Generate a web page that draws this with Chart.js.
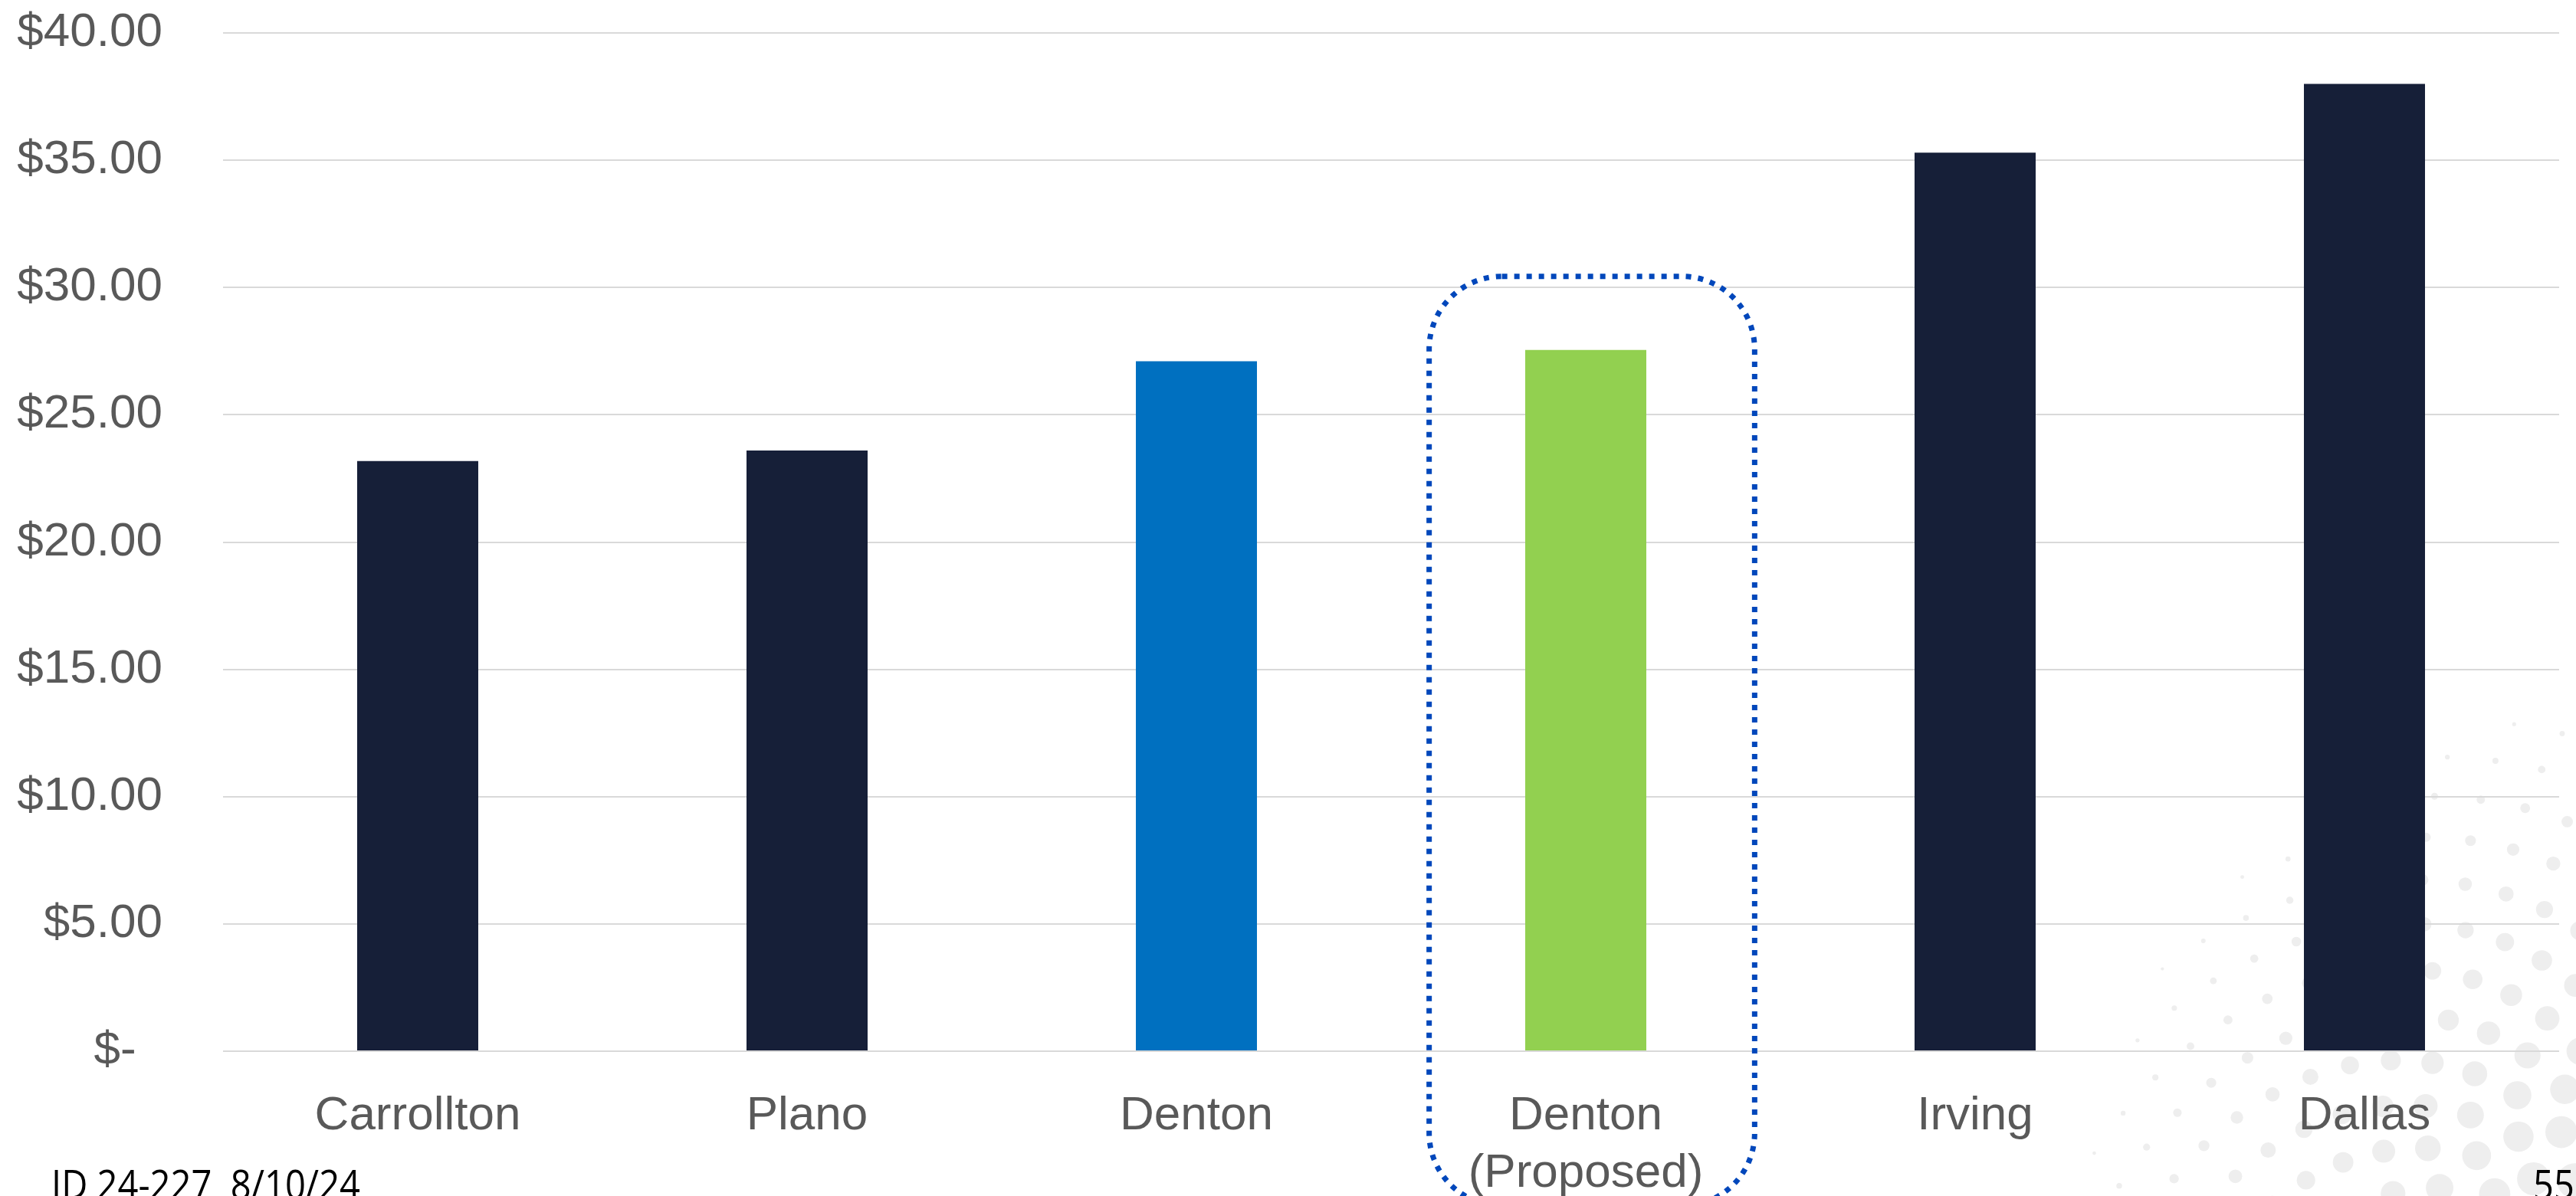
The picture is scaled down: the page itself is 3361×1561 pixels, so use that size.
<!DOCTYPE html>
<html>
<head>
<meta charset="utf-8">
<script src="https://cdn.jsdelivr.net/npm/chart.js@4.4.1/dist/chart.umd.min.js"></script>
<style>
  html, body { margin: 0; padding: 0; background: #fff; overflow: hidden; }
  #wrap { width: 3361px; height: 1561px; position: relative; }
</style>
</head>
<body>
<div id="wrap"><canvas id="rateChart"></canvas></div>
<script>
// Monthly rate comparison
const cities = ['Carrollton', 'Plano', 'Denton', ['Denton', '(Proposed)'], 'Irving', 'Dallas'];
const monthlyRates = [23.18, 23.60, 27.10, 27.55, 35.30, 38.00];
const barColors = ['#161f38', '#161f38', '#0070c0', '#92d050', '#161f38', '#161f38'];
const yTickValues = [0, 5, 10, 15, 20, 25, 30, 35, 40];
const yTickLabels = ['$-  ', '$5.00', '$10.00', '$15.00', '$20.00', '$25.00', '$30.00', '$35.00', '$40.00'];
const proposedIndex = 3;
const footerText = 'ID 24-227  8/10/24';
const pageNumber = '55';

const FONT = "'Liberation Sans', Arial, sans-serif";
const TEXT = '#595959';

// Light dot pattern in the lower right corner, drawn behind everything
const halftone = {
    id: 'halftone',
    beforeDraw(chart) {
        const ctx = chart.ctx;
        const cx = chart.width + 90, cy = chart.height + 90;
        ctx.save();
        ctx.fillStyle = '#eeeeee';
        for (let n = 1; n < 900; n++) {
            const r = 32 * Math.sqrt(n);
            const a = n * 2.39996;
            const x = cx + r * Math.cos(a);
            const y = cy + r * Math.sin(a);
            if (x > chart.width + 30 || y > chart.height + 30) continue;
            const size = 28 * (1 - r / 800);
            if (size < 2) continue;
            ctx.beginPath();
            ctx.arc(x, y, size, 0, Math.PI * 2);
            ctx.fill();
        }
        ctx.restore();
    }
};

// Dotted rounded frame around the proposed bar + slide footer
const overlay = {
    id: 'overlay',
    afterDraw(chart) {
        const ctx = chart.ctx;
        const xs = chart.scales.x, ys = chart.scales.y;
        const cat = xs.getPixelForValue(1) - xs.getPixelForValue(0);
        const cx = xs.getPixelForValue(proposedIndex) + 8;
        const half = cat * 0.418;
        const top = ys.getPixelForValue(monthlyRates[proposedIndex]) - 96;

        ctx.save();
        ctx.strokeStyle = '#0047bb';
        ctx.lineWidth = 7;
        ctx.setLineDash([7, 9]);
        ctx.beginPath();
        ctx.roundRect(cx - half, top, half * 2, chart.height + 13 - top, 95);
        ctx.stroke();
        ctx.restore();

        ctx.save();
        ctx.fillStyle = '#000';
        ctx.font = "53px 'Open Sans', sans-serif";
        ctx.textBaseline = 'alphabetic';
        const w = ctx.measureText(footerText).width;
        const sx = 403 / w;
        ctx.translate(67, chart.height + 4);
        ctx.scale(sx, 1);
        ctx.fillText(footerText, 0, 0);
        ctx.setTransform(1, 0, 0, 1, 0, 0);
        ctx.translate(3305, chart.height + 4);
        ctx.scale(sx, 1);
        ctx.fillText(pageNumber, 0, 0);
        ctx.restore();
    }
};

new Chart(document.getElementById('rateChart').getContext('2d'), {
    type: 'bar',
    data: {
        labels: cities,
        datasets: [{
            data: monthlyRates,
            backgroundColor: barColors,
            borderWidth: 0,
            barPercentage: 0.311,
            categoryPercentage: 1
        }]
    },
    options: {
        responsive: true,
        maintainAspectRatio: false,
        animation: false,
        layout: { padding: { left: 21, right: 22, top: 43, bottom: 0 } },
        plugins: { legend: { display: false }, tooltip: { enabled: false } },
        scales: {
            x: {
                grid: { display: false },
                border: { display: false },
                afterFit: axis => { axis.height = 189; axis.paddingLeft = 0; axis.paddingRight = 0; },
                ticks: {
                    color: TEXT,
                    font: { family: FONT, size: 62 },
                    padding: 40,
                    maxRotation: 0,
                    autoSkip: false
                }
            },
            y: {
                min: 0,
                max: 40,
                afterBuildTicks: axis => { axis.ticks = yTickValues.map(v => ({ value: v })); },
                afterFit: axis => { axis.width = 270; axis.paddingTop = 0; axis.paddingBottom = 0; },
                grid: { color: '#d9d9d9', lineWidth: 2, drawTicks: false },
                border: { display: false },
                ticks: {
                    color: TEXT,
                    font: { family: FONT, size: 62 },
                    padding: 79,
                    callback: v => yTickLabels[yTickValues.indexOf(v)]
                }
            }
        }
    },
    plugins: [halftone, overlay]
});
</script>
</body>
</html>
